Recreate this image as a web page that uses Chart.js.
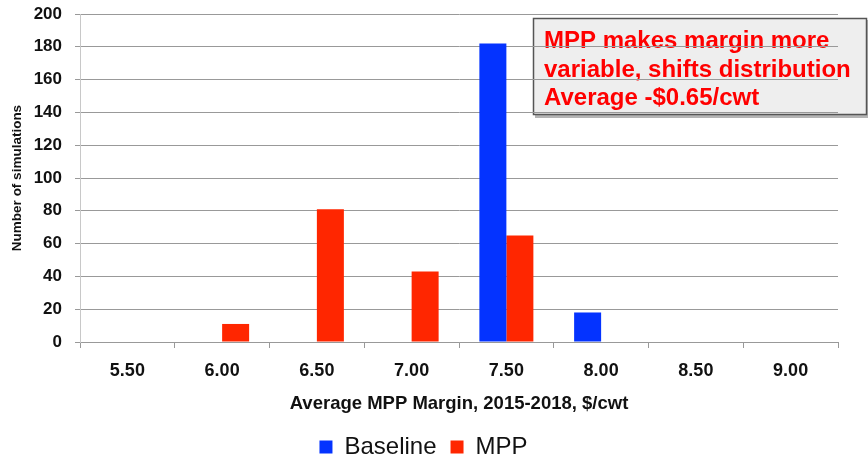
<!DOCTYPE html>
<html>
<head>
<meta charset="utf-8">
<script src="https://cdn.jsdelivr.net/npm/chart.js@4.4.1/dist/chart.umd.min.js"></script>
<style>
  html, body { margin: 0; padding: 0; background: #fff; }
  #wrap { width: 868px; height: 462px; position: relative; }
</style>
</head>
<body>
<div id="wrap"><canvas id="myChart" width="868" height="462"></canvas></div>
<script>
// Categories and values
const categories = ['5.50', '6.00', '6.50', '7.00', '7.50', '8.00', '8.50', '9.00'];
const baseline = [null, null, null, null, 182, 18, null, null];
const mpp = [null, 11, 81, 43, 65, null, null, null];
const noteLines = ['MPP makes margin more', 'variable, shifts distribution', 'Average -$0.65/cwt'];

const FONT = "'Liberation Sans', Arial, sans-serif";

// Gray note box, drawn before the grid so the lines run over it
const notePlugin = {
  id: 'note',
  beforeDraw(chart) {
    const c = chart.ctx;
    c.save();
    c.fillStyle = '#b4b4b4';
    c.fillRect(535, 20, 340, 98);
    c.fillStyle = '#eeeeee';
    c.fillRect(533, 18, 334, 97);
    c.strokeStyle = '#555555';
    c.lineWidth = 1.5;
    c.strokeRect(533.5, 18.5, 333, 96);
    c.fillStyle = '#ff0000';
    c.font = 'bold 24px ' + FONT;
    c.textBaseline = 'alphabetic';
    noteLines.forEach((t, i) => c.fillText(t, 544, 48 + i * 28.5));
    c.restore();
  }
};

const ctx = document.getElementById('myChart').getContext('2d');
new Chart(ctx, {
  type: 'bar',
  data: {
    labels: categories,
    datasets: [
      { label: 'Baseline', data: baseline, backgroundColor: '#0433ff' },
      { label: 'MPP', data: mpp, backgroundColor: '#ff2600' }
    ]
  },
  plugins: [notePlugin],
  options: {
    responsive: false,
    animation: false,
    categoryPercentage: 0.57,
    barPercentage: 1,
    layout: { padding: { left: 9, right: 30, top: 14, bottom: -7 } },
    plugins: {
      tooltip: { enabled: false },
      legend: {
        position: 'bottom',
        labels: {
          color: '#111',
          font: { family: FONT, size: 24 },
          boxWidth: 13,
          boxHeight: 13,
          padding: 14,
          useBorderRadius: false
        }
      }
    },
    scales: {
      x: {
        offset: true,
        afterFit(scale) { scale.height = 79; scale.paddingLeft = 0; scale.paddingRight = 0; },
        grid: { drawOnChartArea: false, drawTicks: true, tickLength: 6, color: '#999', offset: true },
        border: { color: '#999' },
        ticks: { color: '#111', padding: 12, font: { family: FONT, size: 18, weight: 'bold' } },
        title: {
          display: true,
          text: 'Average MPP Margin, 2015-2018, $/cwt',
          color: '#111',
          font: { family: FONT, size: 18.5, weight: 'bold' },
          padding: { top: 11, bottom: 6 }
        }
      },
      y: {
        min: 0,
        max: 200,
        afterFit(scale) { scale.width = 71; scale.paddingTop = 0; scale.paddingBottom = 0; },
        ticks: { stepSize: 20, color: '#111', padding: 13, font: { family: FONT, size: 17, weight: 'bold' } },
        grid: { color: '#999', tickLength: 5 },
        border: { color: '#c8c8c8' },
        title: {
          display: true,
          text: 'Number of simulations',
          color: '#111',
          font: { family: FONT, size: 13.5, weight: 'bold' },
          padding: { top: 0, bottom: 8 }
        }
      }
    }
  }
});
</script>
</body>
</html>
